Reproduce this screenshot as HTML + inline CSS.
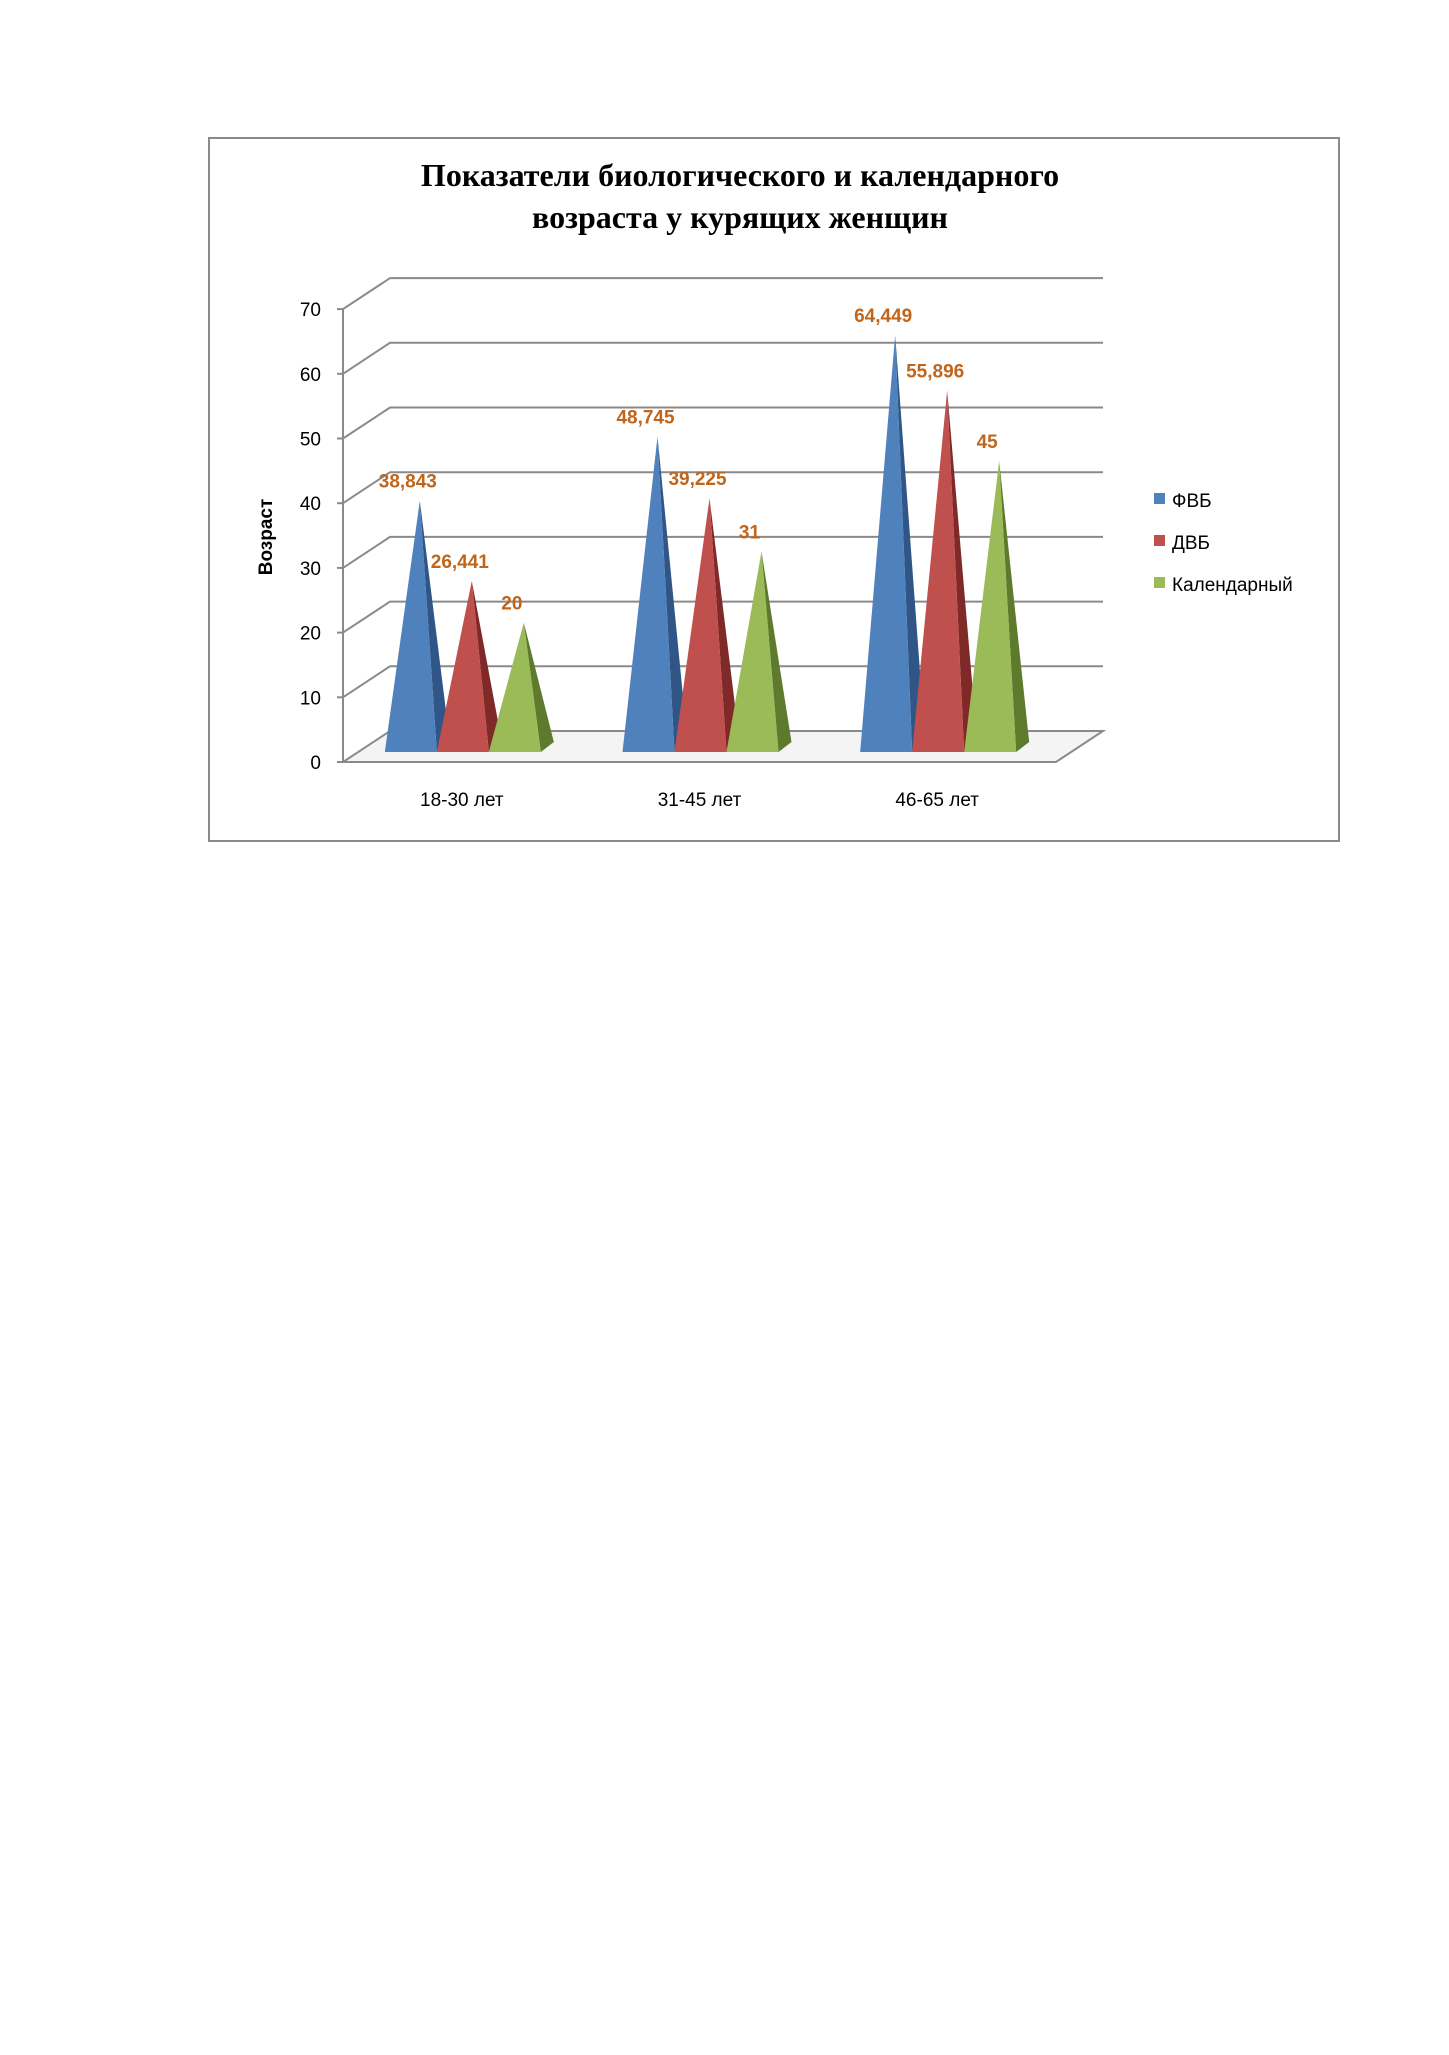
<!DOCTYPE html>
<html><head><meta charset="utf-8"><style>
body{margin:0;background:#fff;}
svg text{font-family:"Liberation Sans",sans-serif;}
</style></head><body>
<svg width="1449" height="2050" xmlns="http://www.w3.org/2000/svg">
<rect x="209" y="138" width="1130" height="703" fill="#fff" stroke="#8a8a8a" stroke-width="2"/>
<text x="740" y="186" text-anchor="middle" font-family="Liberation Serif,serif" style="font-family:'Liberation Serif',serif" font-weight="bold" font-size="32">Показатели биологического и календарного</text>
<text x="740" y="228" text-anchor="middle" style="font-family:'Liberation Serif',serif" font-weight="bold" font-size="32">возраста у курящих женщин</text>
<text transform="translate(272,537) rotate(-90)" text-anchor="middle" font-weight="bold" font-size="19">Возраст</text>
<g id="grid"></g>
<g id="marks"></g>
<g id="labels"></g>
<g>
<rect x="1154" y="493" width="11" height="11" fill="#4f81bd"/>
<text x="1172" y="507" font-size="19">ФВБ</text>
<rect x="1154" y="535" width="11" height="11" fill="#c0504d"/>
<text x="1172" y="549" font-size="19">ДВБ</text>
<rect x="1154" y="577" width="11" height="11" fill="#9bbb59"/>
<text x="1172" y="591" font-size="19">Календарный</text>
</g>
</svg>
<script>
const categories = ["18-30 лет","31-45 лет","46-65 лет"];
const fvb = [38.843, 48.745, 64.449];
const dvb = [26.441, 39.225, 55.896];
const cal = [20, 31, 45];
const valueLabels = [["38,843","48,745","64,449"],["26,441","39,225","55,896"],["20","31","45"]];
const yTicks = [0,10,20,30,40,50,60,70];

const NS="http://www.w3.org/2000/svg";
const X0=343, X1=1056, Y0=762, PXU=6.47, DX=47, DY=-31;
const yFront=v=>Y0-v*PXU;
const baseY=752;
const yApex=v=>baseY-v*PXU;
function mk(tag,attrs,parent){const e=document.createElementNS(NS,tag);for(const k in attrs)e.setAttribute(k,attrs[k]);parent.appendChild(e);return e;}
const grid=document.getElementById('grid'), marks=document.getElementById('marks'), labels=document.getElementById('labels');
// floor
const fl=mk('polygon',{points:`${X0},${Y0} ${X1},${Y0} ${X1+DX},${Y0+DY} ${X0+DX},${Y0+DY}`,fill:'#f4f4f4',stroke:'#8a8a8a','stroke-width':2},grid);


yTicks.forEach(t=>{
  const y=yFront(t);
  if(t>0){
    const l=mk('polyline',{points:`${X0},${y} ${X0+DX},${y+DY} ${X1+DX},${y+DY}`,fill:'none',stroke:'#8a8a8a','stroke-width':2},grid);
    
    
  }
  const tk=mk('line',{x1:X0-6,y1:y,x2:X0,y2:y,stroke:'#8a8a8a','stroke-width':2},grid);
  
  
  const tx=mk('text',{x:321,y:y+7,'text-anchor':'end','font-size':19},grid);
  tx.textContent=t;
  
  
});
const ax=mk('line',{x1:X0,y1:yFront(0),x2:X0,y2:yFront(70),stroke:'#8a8a8a','stroke-width':2},grid);


const series=[fvb,dvb,cal];
const front=['#4f81bd','#c0504d','#9bbb59'], side=['#2f5686','#7f2a28','#5e7a2c'];
const names=['fvb','dvb','calendar'];
const groupW=(X1-X0)/categories.length;
categories.forEach((c,i)=>{
  const gc=X0+groupW*(i+0.5)+10;
  const xl=mk('text',{x:gc-10,y:806,'text-anchor':'middle','font-size':19},labels);
  xl.textContent=c;
  
  
  series.forEach((s,j)=>{
    const cx=gc+(j-1)*52;
    const ay=yApex(s[i]);
    const sh=mk('polygon',{points:`${cx+17},${baseY} ${cx+30},${baseY-10} ${cx},${ay}`,fill:side[j]},marks);
    
    
    const fr=mk('polygon',{points:`${cx-35},${baseY} ${cx+17},${baseY} ${cx},${ay}`,fill:front[j]},marks);
    
    
    const vl=mk('text',{x:cx-12,y:ay-13,'text-anchor':'middle','font-size':19,'font-weight':'bold',fill:'#c0651a'},labels);
    vl.textContent=valueLabels[j][i];
    
    
  });
});
</script>
</body></html>
